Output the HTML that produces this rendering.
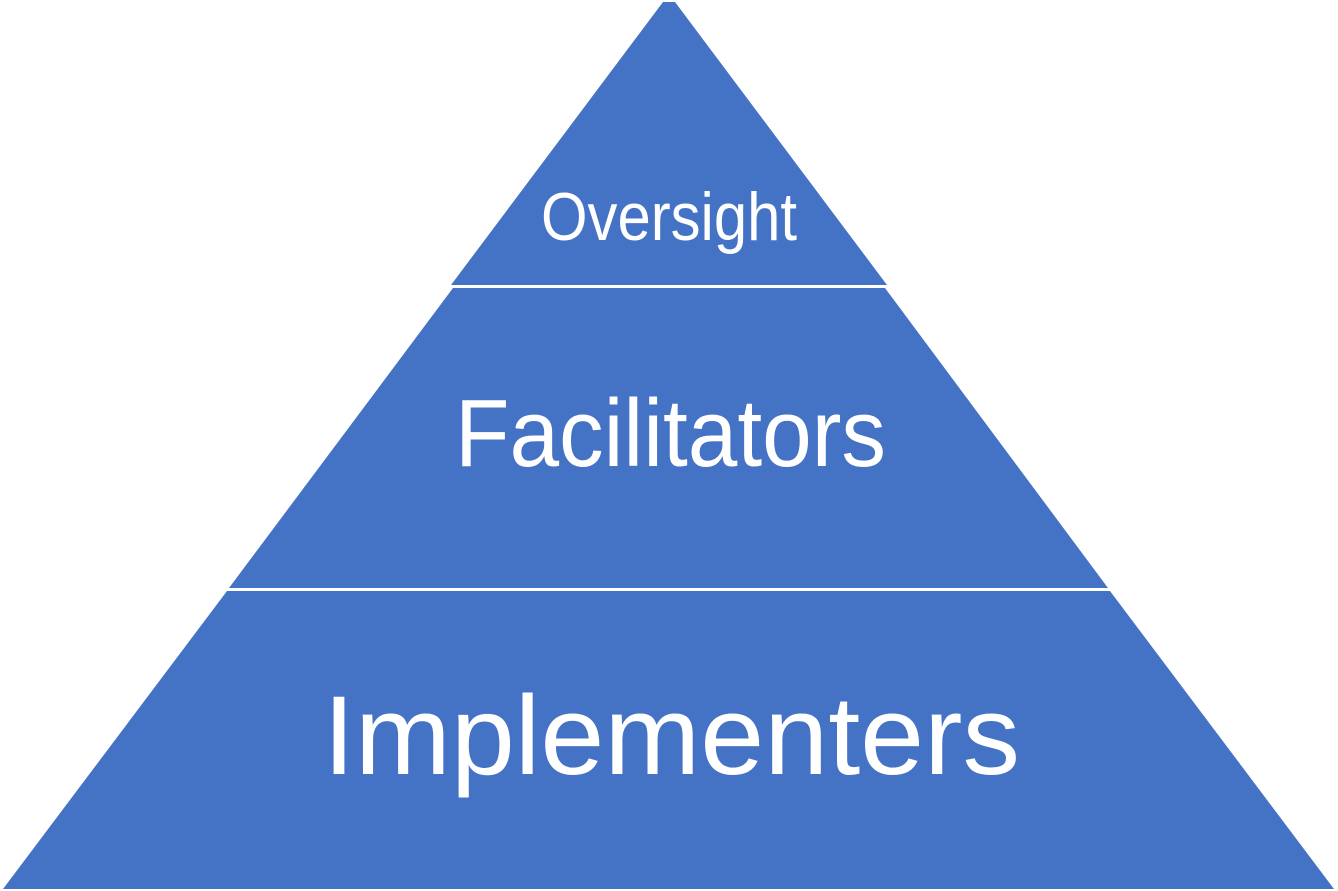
<!DOCTYPE html>
<html><head><meta charset="utf-8"><style>html,body{margin:0;padding:0;background:#fff;}svg{display:block}</style></head>
<body>
<svg width="1338" height="891" viewBox="0 0 1338 891" xmlns="http://www.w3.org/2000/svg">
<polygon points="663,2 675,2 887,285 451,285" fill="#4472C4"/>
<polygon points="453,288 885,288 1108,588 229,588" fill="#4472C4"/>
<polygon points="227,591 1110,591 1334,889 3,889" fill="#4472C4"/>
<g fill="#fff" font-family="Liberation Sans, sans-serif" text-anchor="start">
<text x="541" y="240" font-size="68" textLength="256" lengthAdjust="spacingAndGlyphs">Oversight</text>
<text x="455" y="466" font-size="96" textLength="431" lengthAdjust="spacingAndGlyphs">Facilitators</text>
<text x="323" y="774" font-size="112" textLength="697" lengthAdjust="spacingAndGlyphs">Implementers</text>
</g>
</svg>
</body></html>
